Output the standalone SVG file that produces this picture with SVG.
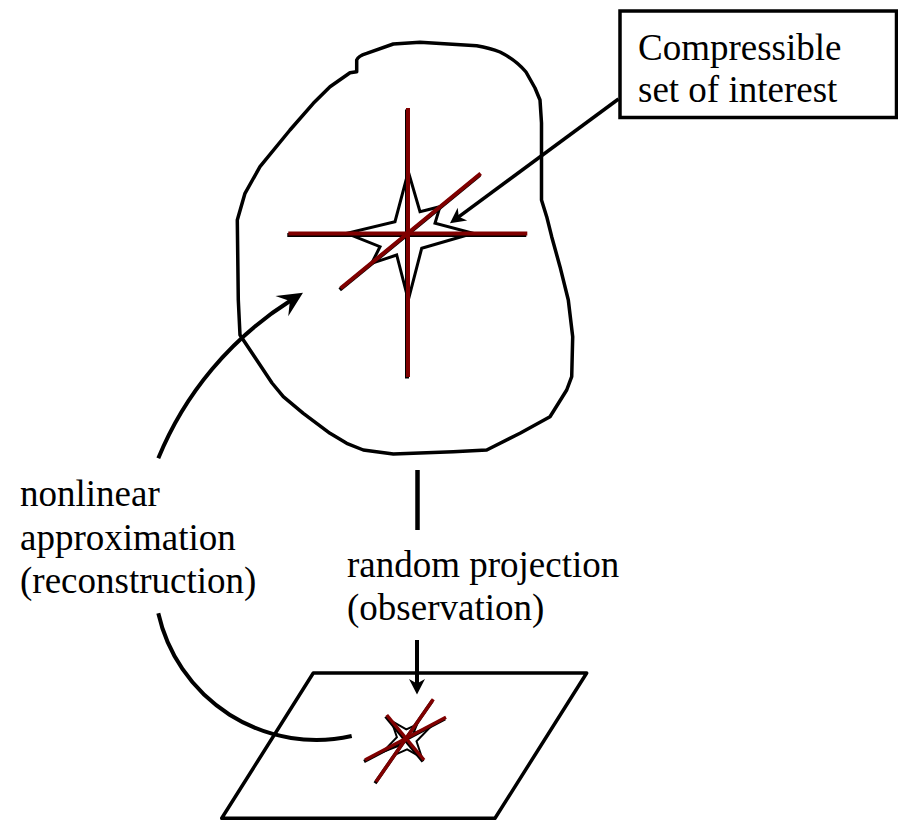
<svg xmlns="http://www.w3.org/2000/svg" width="898" height="820" viewBox="0 0 898 820">
<style>
.ln{fill:none;stroke:#000;stroke-linejoin:round}
.red{stroke:#800000;stroke-width:4;stroke-linecap:butt}
.sh{stroke:#000;stroke-width:4;stroke-linecap:butt}
.star{fill:#fff;stroke:#000;stroke-width:3;stroke-linejoin:miter;stroke-miterlimit:10}
.t{font-family:"Liberation Serif","Times New Roman",serif;font-size:37px;fill:#000}
</style>
<defs>
<marker id="big" markerUnits="userSpaceOnUse" viewBox="-26 -13 27 26" markerWidth="27" markerHeight="26" refX="-15" refY="0" orient="auto">
<path d="M0,0 L-25,-12 L-15.5,0 L-25,12 Z" fill="#000"/>
</marker>
<marker id="sm" markerUnits="userSpaceOnUse" viewBox="-17 -9 18 18" markerWidth="18" markerHeight="18" refX="-10" refY="0" orient="auto">
<path d="M0,0 L-15.5,-8 L-11,0 L-15.5,8 Z" fill="#000"/>
</marker>
</defs>
<rect width="898" height="820" fill="#fff"/>

<g id="signal-set">
<path class="ln" stroke-width="3.5" d="M356.7,71.7 L356.7,60 Q358,56 366.7,53.3 L393.3,44 L420,42.3 L476.7,45.7 Q490,48 500,52 Q516,60 526,72 L535,88 L540,100 L541.5,123 L541.5,200 L546.7,216.7 L551.7,236.7 L560,266.7 L568.3,300 L572.7,336.7 L571.7,376.7 L566.7,390 L550,416.7 L520,433.3 L486.7,450 L453.3,451.7 L393.3,454 L363.3,450 L346.7,443.3 L330,433.3 L303.3,413.3 L283.3,396.7 L272,383 L256.7,360 L240,335 L238.3,300 L237.3,220 L245,193.3 L260,166.7 L290,130 L313.3,103.3 L330,86.7 L350,72.7 Z"/>
</g>

<g id="star-big">
<path class="star" d="M408.3,171.7 L395,221.7 L346.7,233.3 L380,246.7 L371.7,263.3 L396.7,255 L408.3,300 L421.7,248.3 L473.3,233.3 L435,223.3 L440,206.7 L420,211.7 Z"/>
<g class="sh" transform="translate(-1,1.5)">
<line x1="408" y1="108" x2="408" y2="377"/>
<line x1="288.3" y1="233.5" x2="527.3" y2="233.5"/>
<line x1="340.7" y1="288.3" x2="480.7" y2="173.5"/>
</g>
<g class="red">
<line x1="408" y1="108" x2="408" y2="377"/>
<line x1="288.3" y1="233.5" x2="527.3" y2="233.5"/>
<line x1="340.7" y1="288.3" x2="480.7" y2="173.5"/>
</g>
</g>

<g id="label-box">
<rect x="620" y="11" width="276.5" height="106.5" fill="#fff" stroke="#000" stroke-width="3.5"/>
<text class="t" x="638" y="60">Compressible</text>
<text class="t" x="638" y="102">set of interest</text>
</g>

<g id="measurement-plane">
<path class="ln" stroke-width="3.5" d="M313.3,673 L586.7,673 L495,818.3 L221.7,818.3 Z"/>
</g>

<g id="star-small">
<path class="star" d="M391.4,720.8 L406.3,729.3 L417,724.5 L413.4,733.3 L430.6,726.7 L416.5,741.3 L422,757.8 L407.1,749.3 L396.4,754.1 L400,745.3 L382.8,751.9 L396.9,737.3 Z" style="stroke-width:2"/>
<g class="sh" transform="translate(-1,1.5)" style="stroke-width:3.5">
<line x1="365" y1="760" x2="446" y2="717.3"/>
<line x1="376" y1="781.7" x2="433.3" y2="699.3"/>
<line x1="386.7" y1="715" x2="424" y2="760"/>
</g>
<g class="red" style="stroke-width:3.5">
<line x1="365" y1="760" x2="446" y2="717.3"/>
<line x1="376" y1="781.7" x2="433.3" y2="699.3"/>
<line x1="386.7" y1="715" x2="424" y2="760"/>
</g>
</g>

<g id="connectors">
<line class="ln" stroke-width="3.5" x1="618.5" y1="99" x2="458" y2="217.4" marker-end="url(#sm)"/>
<line class="ln" stroke-width="4.5" x1="417.5" y1="470" x2="417.5" y2="530"/>
<line class="ln" stroke-width="4" x1="417" y1="640" x2="417" y2="684.5" marker-end="url(#sm)"/>
<path class="ln" stroke-width="4" d="M158.3,458.3 A337,337 0 0 1 290.3,300.8" marker-end="url(#big)"/>
<path class="ln" stroke-width="4" d="M158.3,613.3 A162,162 0 0 0 351.7,736"/>
</g>

<g id="labels">
<text class="t" x="20" y="506">nonlinear</text>
<text class="t" x="20" y="550">approximation</text>
<text class="t" x="20" y="593">(reconstruction)</text>
<text class="t" x="347" y="577">random projection</text>
<text class="t" x="347" y="620">(observation)</text>
</g>
</svg>
